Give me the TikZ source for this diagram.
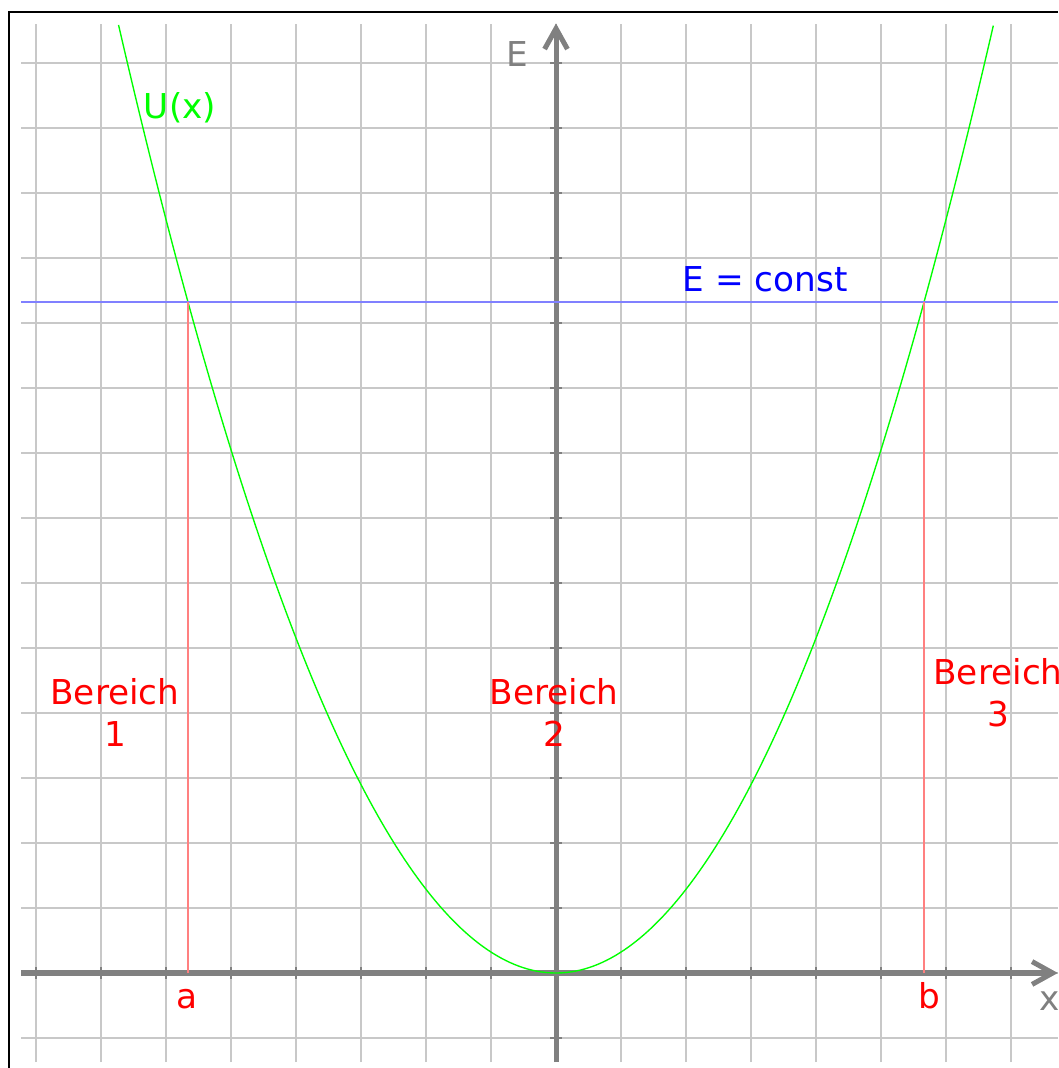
\documentclass[tikz,border=0pt]{standalone}
\usepackage{fontspec}
\setmainfont{DejaVu Sans}
\usetikzlibrary{arrows.meta}

\definecolor{gridgray}{RGB}{200,200,200}
\definecolor{axisgray}{RGB}{128,128,128}
\definecolor{lineblue}{RGB}{128,128,255}
\definecolor{linered}{RGB}{255,128,128}

\tikzset{
	lbl/.style={font=\fontsize{15}{18.4}\selectfont,inner sep=0pt,anchor=base,align=center},
	axisline/.style={axisgray,line width=2.2pt,-{Straight Barb[length=9pt,width=10pt]}},
	axistick/.style={axisgray,line width=0.6pt}
}

\begin{document}
\begin{tikzpicture}

	\useasboundingbox (-8.554,-1.4615) rectangle (7.723,14.969);

	\draw[black,line width=0.9pt] (-8.415,-1.4615) -- (-8.415,14.79) -- (7.723,14.79);

	\draw[step=1,gridgray,line width=0.6pt] (-8.23,-1.37) grid (7.723,14.6);

	\foreach \x in {-8,...,7} \draw[axistick] (\x,-0.09) -- (\x,0.09);
	\foreach \y in {-1,1,2,...,14} \draw[axistick] (-0.09,\y) -- (0.09,\y);

	\coordinate (xstart) at (-8.23,0);
	\coordinate (xend) at (7.72,0);
	\coordinate (ystart) at (0,-1.37);
	\coordinate (yend) at (0,14.61);
	\draw[axisline] (xstart) -- (xend);
	\draw[axisline] (ystart) -- (yend);

	\draw[green,line width=0.6pt,domain=-6.73:6.73,samples=200] plot (\x,{0.322*\x*\x});

	\coordinate (eleft) at (-8.23,10.33);
	\coordinate (eright) at (7.723,10.33);
	\draw[lineblue,line width=0.9pt] (eleft) -- (eright);

	\coordinate (a) at (-5.664,0);
	\coordinate (A) at (-5.664,10.33);
	\coordinate (b) at (5.664,0);
	\coordinate (B) at (5.664,10.33);
	\draw[linered,line width=0.9pt] (a) -- (A);
	\draw[linered,line width=0.9pt] (b) -- (B);

	\node[lbl,axisgray] (Elabel) at (-0.6,13.94) {E};
	\node[lbl,axisgray] (xlabel) at (7.6,-0.57) {x};
	\node[lbl,green] (Ulabel) at (-5.785,13.15) {U(x)};
	\node[lbl,blue] (const) at (3.215,10.48) {E = const};

	\node[lbl,red] (alabel) at (-5.68,-0.54) {a};
	\node[lbl,red] (blabel) at (5.74,-0.54) {b};

	\node[lbl,red] (bereich1) at (-6.785,3.48) {Bereich\\1};
	\node[lbl,red] (bereich2) at (-0.03,3.49) {Bereich\\2};
	\node[lbl,red] (bereich3) at (6.8,3.79) {Bereich\\3};

\end{tikzpicture}
\end{document}
